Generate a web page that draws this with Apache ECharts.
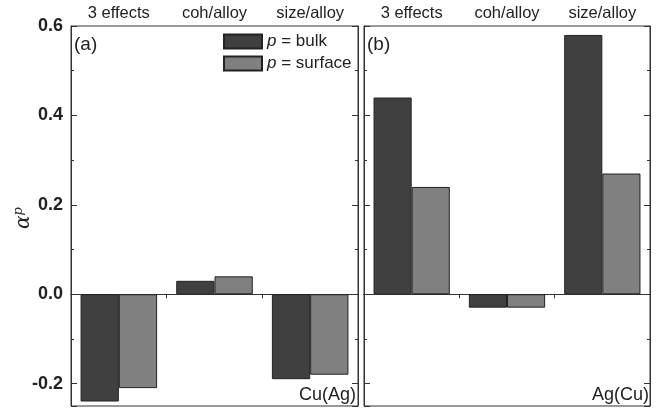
<!DOCTYPE html>
<html>
<head>
<meta charset="utf-8">
<script src="https://cdn.jsdelivr.net/npm/echarts@6/dist/echarts.min.js"></script>
<style>
  html, body { margin: 0; padding: 0; background: #fff; }
  #chart { width: 664px; height: 409px; }
</style>
</head>
<body>
<div id="chart"></div>
<script>
const categories = ['3 effects', 'coh/alloy', 'size/alloy'];
const seriesNames = ['bulk', 'surface'];
// panel (a) Cu(Ag)
const cuAgBulk = [-0.24, 0.03, -0.19];
const cuAgSurface = [-0.21, 0.04, -0.18];
// panel (b) Ag(Cu)
const agCuBulk = [0.44, -0.03, 0.58];
const agCuSurface = [0.24, -0.03, 0.27];

const FONT = '"Liberation Sans", Arial, sans-serif';
const BULK_COLOR = '#404040';
const SURF_COLOR = '#808080';
const Y_MIN = -0.25;
const Y_MAX = 0.6;

const chart = echarts.init(document.getElementById('chart'));

function yAxisFor(gridIndex, position, showLabels) {
  return {
    type: 'value',
    gridIndex: gridIndex,
    position: position,
    min: Y_MIN,
    max: Y_MAX,
    splitNumber: 4,
    splitLine: { show: false },
    axisLine: { show: true, lineStyle: { color: '#333', width: 1 } },
    axisTick: { show: true, inside: true, length: 6, lineStyle: { color: '#333' } },
    minorTick: { show: true, splitNumber: 2, length: 3, lineStyle: { color: '#333' } },
    axisLabel: {
      show: showLabels,
      showMinLabel: false,
      fontFamily: FONT,
      fontSize: 18,
      fontWeight: 'bold',
      color: '#222',
      margin: 8,
      formatter: (v) => (Math.abs(Math.round(v * 10) - v * 10) < 1e-6 ? v.toFixed(1) : '')
    }
  };
}

function topAxis(gridIndex) {
  return {
    type: 'category',
    gridIndex: gridIndex,
    position: 'top',
    data: categories,
    axisLine: { show: true, lineStyle: { color: '#333' } },
    axisTick: { show: true, inside: true, length: 4, lineStyle: { color: '#333' } },
    axisLabel: { fontFamily: FONT, fontSize: 16.5, color: '#222', margin: 4 }
  };
}

function zeroAxis(gridIndex) {
  return {
    type: 'category',
    gridIndex: gridIndex,
    position: 'bottom',
    data: categories,
    axisLine: { show: true, onZero: true, onZeroAxisIndex: gridIndex * 2, lineStyle: { color: '#555' } },
    axisTick: { show: false },
    axisLabel: { show: false }
  };
}

function barSeries(name, data, color, axisIdx) {
  return {
    name: name,
    type: 'bar',
    xAxisIndex: axisIdx,
    yAxisIndex: axisIdx,
    data: data,
    barGap: '0%',
    barCategoryGap: '20%',
    itemStyle: { color: color, borderColor: '#222', borderWidth: 1 }
  };
}

const option = {
  animation: false,
  backgroundColor: '#fff',
  grid: [
    { left: 71, right: 306, top: 26, bottom: 3, show: true, borderColor: '#333', borderWidth: 1 },
    { left: 364, right: 14, top: 26, bottom: 3, show: true, borderColor: '#333', borderWidth: 1 }
  ],
  legend: {
    left: 223,
    top: 33,
    padding: 0,
    orient: 'vertical',
    icon: 'rect',
    itemWidth: 38,
    itemHeight: 14,
    itemGap: 5,
    data: seriesNames,
    formatter: (n) => '{i|p} = ' + n,
    textStyle: {
      fontFamily: FONT,
      fontSize: 17,
      color: '#222',
      rich: { i: { fontFamily: FONT, fontSize: 17, fontStyle: 'italic', color: '#222' } }
    }
  },
  xAxis: [zeroAxis(0), topAxis(0), zeroAxis(1), topAxis(1)],
  yAxis: [
    yAxisFor(0, 'left', true),
    yAxisFor(0, 'right', false),
    yAxisFor(1, 'left', false),
    yAxisFor(1, 'right', false)
  ],
  graphic: [
    {
      type: 'text',
      x: 24,
      y: 218,
      rotation: Math.PI / 2,
      style: {
        text: '{a|α}{p|p}',
        align: 'center',
        verticalAlign: 'middle',
        rich: {
          a: { fontFamily: '"DejaVu Serif", serif', fontStyle: 'italic', fontSize: 20, fill: '#222' },
          p: { fontFamily: '"DejaVu Serif", serif', fontStyle: 'italic', fontSize: 13, fill: '#222', verticalAlign: 'top', padding: [0, 0, 10, 0] }
        }
      }
    },
    { type: 'text', left: 74, top: 35, style: { text: '(a)', font: '19px ' + FONT, fill: '#222' } },
    { type: 'text', left: 367, top: 35, style: { text: '(b)', font: '19px ' + FONT, fill: '#222' } },
    { type: 'text', right: 308, top: 386, style: { text: 'Cu(Ag)', font: '18px ' + FONT, fill: '#222' } },
    { type: 'text', right: 15, top: 386, style: { text: 'Ag(Cu)', font: '18px ' + FONT, fill: '#222' } }
  ],
  series: [
    barSeries('bulk', cuAgBulk, BULK_COLOR, 0),
    barSeries('surface', cuAgSurface, SURF_COLOR, 0),
    Object.assign(barSeries('bulk', agCuBulk, BULK_COLOR, 2), { yAxisIndex: 2 }),
    Object.assign(barSeries('surface', agCuSurface, SURF_COLOR, 2), { yAxisIndex: 2 })
  ]
};

chart.setOption(option);
</script>
</body>
</html>
